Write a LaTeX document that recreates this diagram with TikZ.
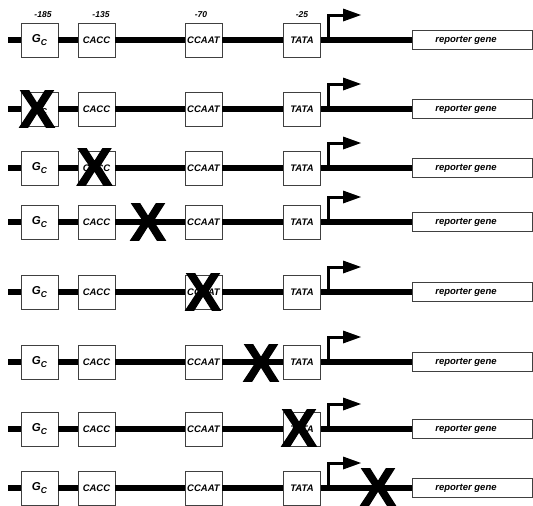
\documentclass[tikz,border=0pt]{standalone}
\usepackage{fontspec}
\setmainfont{Liberation Sans}
\newfontfamily\xfont[FakeBold=2.2]{Liberation Sans Bold}
\begin{document}
\begin{tikzpicture}[x=1pt,y=-1pt,
  dna/.style={line width=6pt},
  lbl/.style={font=\fontsize{9.5}{9.5}\selectfont\bfseries\itshape},
  elem/.style={lbl, draw=black!75, line width=0.9pt, fill=white, minimum width=37pt, minimum height=34pt, inner sep=0pt},
  repbox/.style={lbl, draw=black!75, line width=0.9pt, fill=white, minimum width=120pt, minimum height=19pt, inner sep=0pt},
  poslabel/.style={font=\fontsize{8.5}{8.5}\selectfont\bfseries\itshape, inner sep=0pt},
  knock/.style={font=\xfont\fontsize{53}{53}\selectfont, inner sep=0pt},
  stem/.style={line width=3pt, line join=miter},
]
\useasboundingbox (0,0) rectangle (533,506);
\foreach \r/\y in {1/40,2/109,3/168,4/222,5/292,6/362,7/429,8/488} {
  \coordinate (s\r) at (8,\y);
  \node[elem] (gc\r) at (39.5,\y) {\fontsize{11.5}{11.5}\selectfont G\raisebox{-2.5pt}{\fontsize{8.5}{8.5}\selectfont C}};
  \node[elem] (cacc\r) at (96.5,\y) {CACC};
  \node[elem] (ccaat\r) at (203.5,\y) {CCAAT};
  \node[elem] (tata\r) at (302,\y) {TATA};
  \node[repbox] (rep\r) at (472,\y) {\hspace*{-12pt}reporter gene};
  \draw[dna] (s\r) -- (gc\r.west) (gc\r.east) -- (cacc\r.west)
    (cacc\r.east) -- (ccaat\r.west) (ccaat\r.east) -- (tata\r.west)
    (tata\r.east) -- (rep\r.west);
  \coordinate (p\r) at (328,\y);
  \coordinate (pt\r) at (328,\y-25);
  \coordinate (pa\r) at (343,\y-25);
  \draw[stem] (p\r) -- (pt\r) -- (pa\r);
  \fill (pa\r) ++(0,-6.5) -- ++(18,6.5) -- ++(-18,6.5) -- cycle;
}
\node[poslabel] (l185) at (43,15) {-185};
\node[poslabel] (l135) at (101,15) {-135};
\node[poslabel] (l70) at (201,15) {-70};
\node[poslabel] (l25) at (302,15) {-25};
\node[knock] (x2) at (37,109) {X};
\node[knock] (x3) at (94.5,167) {X};
\node[knock] (x4) at (148,222) {X};
\node[knock] (x5) at (203,292) {X};
\node[knock] (x6) at (261,363) {X};
\node[knock] (x7) at (299,428) {X};
\node[knock] (x8) at (378,487) {X};
\end{tikzpicture}
\end{document}
